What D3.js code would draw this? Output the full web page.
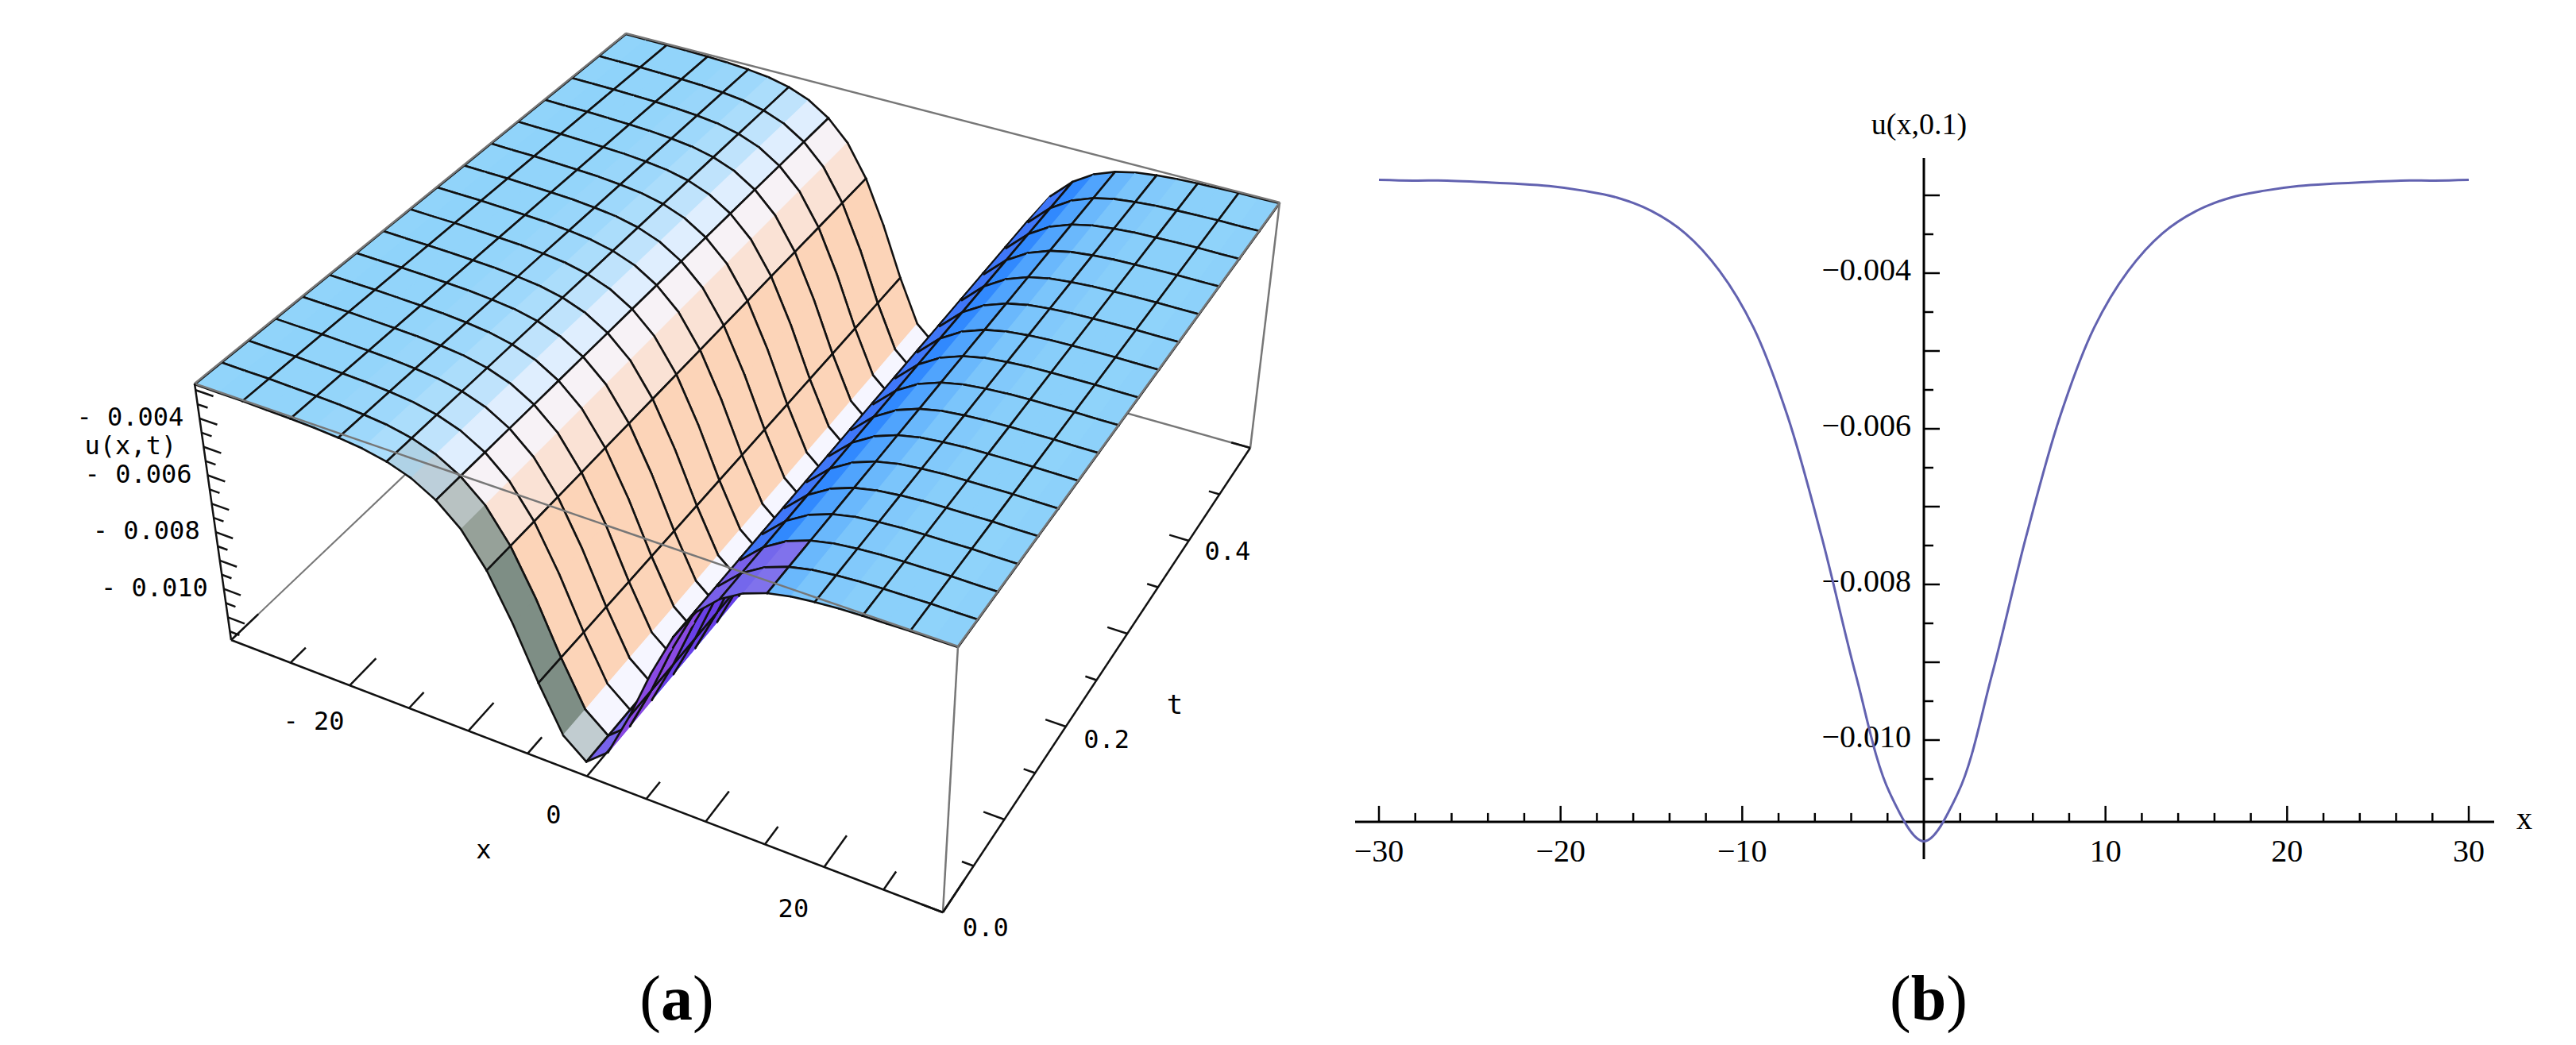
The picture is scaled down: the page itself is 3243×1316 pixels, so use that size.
<!DOCTYPE html>
<html><head><meta charset="utf-8">
<script src="https://cdn.jsdelivr.net/npm/d3@7"></script>
<style>body{margin:0;background:#fff}svg{display:block}</style>
</head><body>
<svg id="c" width="3243" height="1316"></svg>
<script>
// ---------- data ----------
const xSamples = [-30,-28.125,-26.25,-24.375,-22.5,-20.625,-18.75,-16.875,-15,-13.125,-11.25,-9.375,-7.5,-5.625,-3.75,-1.875,0,1.875,3.75,5.625,7.5,9.375,11.25,13.125,15,16.875,18.75,20.625,22.5,24.375,26.25,28.125,30];
const uProfile = [-0.00280,-0.00281,-0.00281,-0.00283,-0.00285,-0.00288,-0.00294,-0.00303,-0.00320,-0.00349,-0.00397,-0.00470,-0.00584,-0.00739,-0.00916,-0.01068,-0.01130,-0.01068,-0.00916,-0.00739,-0.00584,-0.00470,-0.00397,-0.00349,-0.00320,-0.00303,-0.00294,-0.00288,-0.00285,-0.00283,-0.00281,-0.00281,-0.00280];
const tMesh = [0,0.03125,0.0625,0.09375,0.125,0.15625,0.1875,0.21875,0.25,0.28125,0.3125,0.34375,0.375,0.40625,0.4375,0.46875,0.5];
const aXTicks = [-30,-25,-20,-15,-10,-5,0,5,10,15,20,25,30];
const aXLabels = [-20,0,20];
const aTTicks = [0,0.05,0.1,0.15,0.2,0.25,0.3,0.35,0.4,0.45,0.5];
const aTLabels = [0,0.2,0.4];
const aUTicks = [-0.003,-0.0035,-0.004,-0.0045,-0.005,-0.0055,-0.006,-0.0065,-0.007,-0.0075,-0.008,-0.0085,-0.009,-0.0095,-0.010,-0.0105,-0.011,-0.0115];
const aULabels = [-0.004,-0.006,-0.008,-0.010];
const bXTicks = d3.range(-30,31,2);
const bXLabels = [-30,-20,-10,10,20,30];
const bYTicks = [-0.003,-0.0035,-0.004,-0.0045,-0.005,-0.0055,-0.006,-0.0065,-0.007,-0.0075,-0.008,-0.0085,-0.009,-0.0095,-0.010,-0.0105];
const bYLabels = [-0.004,-0.006,-0.008,-0.010];

const svg = d3.select("#c");
const minus = v => (v<0?"\u2212":"") + Math.abs(v);

// ---------- panel (a) ----------
const sx = d3.scaleLinear().domain([-30,30]).range([0,1]);
const st = d3.scaleLinear().domain([0,0.5]).range([0,1]);
const su = d3.scaleLinear().domain([-0.0118,-0.00277]).range([0,1]);
const TOP = {D:[245,483],C:[1206,814],B:[1611,255],A:[788,42]};
const BOT = {D:[291,806],C:[1187,1149],B:[1574,564],A:[780,341]};
function face(F,a,b){
  return [0,1].map(k=>F.D[k]*(1-a)*(1-b)+F.C[k]*a*(1-b)+F.B[k]*a*b+F.A[k]*(1-a)*b);
}
function P(x,t,u){
  const a=sx(x), b=st(t), c=su(u);
  const p=face(TOP,a,b), q=face(BOT,a,b);
  return [q[0]+(p[0]-q[0])*c, q[1]+(p[1]-q[1])*c];
}
const gA = svg.append("g");
const edge = (p,q,col,w)=>gA.append("line").attr("x1",p[0]).attr("y1",p[1]).attr("x2",q[0]).attr("y2",q[1]).attr("stroke",col).attr("stroke-width",w);
const umin=-0.0118, umax=-0.00277;
// hidden edges
edge(P(-30,0.5,umax),P(-30,0.5,umin),"#777",2);
edge(P(-30,0.5,umin),P(-30,0,umin),"#777",2);
edge(P(-30,0.5,umin),P(30,0.5,umin),"#777",2.5);

// slopes
const slopes = xSamples.slice(0,-1).map((x,i)=>(uProfile[i+1]-uProfile[i])/(xSamples[i+1]-x));
const smax = d3.max(slopes,Math.abs);
const flat="#8fd3fa";
const cNeg1=d3.interpolateRgb(flat,"#f6f6ff"), cNeg2=d3.interpolateRgb("#f6f6ff","#fcd4b8");
const cPos1=d3.interpolateRgb(flat,"#2f8cff"), cPos2=d3.interpolateRgb("#2f8cff","#6a40e8");
function colorFor(s,k){
  const r=s/smax;
  let c;
  if(r<=0){const m=-r; c = m<0.35?cNeg1(m/0.35):cNeg2(Math.min(1,(m-0.35)/0.5));
    if(k===0 && m>0.15) c=d3.interpolateRgb(c,"#5f7d78")(Math.min(0.8,m));}
  else { c = r<0.25?cPos1(r/0.25):cPos2(Math.min(1,(r-0.25)/0.6));
    if(k<=1 && r>0.1) c=d3.interpolateRgb(c,"#a050e0")(0.6);}
  return c;
}
const quads=[];
for(let k=tMesh.length-2;k>=0;k--) for(let i=0;i<xSamples.length-1;i++) quads.push([i,k]);
const line = d3.line();
const gS = gA.append("g");
quads.forEach(([i,k])=>{
  const x0=xSamples[i],x1=xSamples[i+1],t0=tMesh[k],t1=tMesh[k+1],u0=uProfile[i],u1=uProfile[i+1];
  const pts=[P(x0,t0,u0),P(x1,t0,u1),P(x1,t1,u1),P(x0,t1,u0)];
  const col=colorFor(slopes[i],k);
  const g=gS.append("g");
  g.append("path").attr("d",line(pts)+"Z").attr("fill",col).attr("stroke",col).attr("stroke-width",1.2);
  const segs=[[pts[0],pts[1]],[pts[3],pts[2]]];
  if(i%2===0) segs.push([pts[0],pts[3]]);
  if((i+1)%2===0) segs.push([pts[1],pts[2]]);
  segs.forEach(([p,q])=>g.append("line").attr("x1",p[0]).attr("y1",p[1]).attr("x2",q[0]).attr("y2",q[1]).attr("stroke","#111").attr("stroke-width",2.6).attr("stroke-linecap","round"));
});
// visible box edges
edge(P(-30,0.5,umax),P(30,0.5,umax),"#777",2.5);
edge(P(30,0.5,umax),P(30,0,umax),"#777",2.5);
edge(P(30,0,umax),P(-30,0,umax),"#777",2.5);
edge(P(-30,0,umax),P(-30,0.5,umax),"#777",2.5);
edge(P(30,0.5,umax),P(30,0.5,umin),"#777",2.5);
edge(P(30,0,umax),P(30,0,umin),"#777",2.5);
edge(P(-30,0,umax),P(-30,0,umin),"#111",2.5);
edge(P(-30,0,umin),P(30,0,umin),"#111",2.5);
edge(P(30,0,umin),P(30,0.5,umin),"#111",2.5);
const lab = (p,txt,anchor,size,fam)=>gA.append("text").attr("x",p[0]).attr("y",p[1]).attr("text-anchor",anchor||"middle").attr("dominant-baseline","middle").attr("font-family",fam||"DejaVu Sans Mono").attr("font-size",size||32).attr("fill","#000").text(txt);
aXTicks.forEach(x=>{const L=(x%10===0)?0.035:0.02; edge(P(x,0,umin),P(x,L,umin),"#111",2.5);});
aXLabels.forEach(x=>{const p=P(x,-0.048,umin); lab(p, x<0?"- "+Math.abs(x):String(x));});
lab([P(-2.5,-0.105,umin)[0],P(-2.5,-0.105,umin)[1]],"x","middle",32);
aTTicks.forEach(t=>{const L=(Math.round(t*100)%10===0)?1.8:1.0; edge(P(30,t,umin),P(30-L,t,umin),"#111",2.5);});
aTLabels.forEach(t=>{const p=P(33.6,t,umin); lab(p,t.toFixed(1));});
lab(P(37,0.25,umin),"t","middle",34);
aUTicks.forEach(u=>{const L=(Math.round(u*10000)%10===0)?1.4:0.8; edge(P(-30,0,u),P(-30+L,0,u),"#111",2.5);});
aULabels.forEach(u=>{const p=P(-30,0,u); lab([p[0]-20,p[1]],"- "+Math.abs(u).toFixed(3),"end",32);});
{const p=P(-30,0,-0.0050); lab([p[0]-92,p[1]],"u(x,t)","middle",32);}

// ---------- panel (b) ----------
const bx = d3.scaleLinear().domain([-30,30]).range([1736,3108]);
const by = d3.scaleLinear().domain([-0.004,-0.010]).range([344,932]);
const gB = svg.append("g").attr("font-family","Liberation Serif").attr("font-size",40);
const axY = by(-0.01105), axX = bx(0);
gB.append("line").attr("x1",1706).attr("x2",3140).attr("y1",axY).attr("y2",axY).attr("stroke","#000").attr("stroke-width",3);
gB.append("line").attr("x1",axX).attr("x2",axX).attr("y1",199).attr("y2",1082).attr("stroke","#000").attr("stroke-width",3);
bXTicks.forEach(x=>{ if(x===0) return; const L=(x%10===0)?20:11;
  gB.append("line").attr("x1",bx(x)).attr("x2",bx(x)).attr("y1",axY).attr("y2",axY-L).attr("stroke","#000").attr("stroke-width",2.5);});
bXLabels.forEach(x=>gB.append("text").attr("x",bx(x)).attr("y",axY+50).attr("text-anchor","middle").text(minus(x)));
bYTicks.forEach(u=>{const L=(Math.round(u*10000)%10===0)?20:12;
  gB.append("line").attr("x1",axX).attr("x2",axX+L).attr("y1",by(u)).attr("y2",by(u)).attr("stroke","#000").attr("stroke-width",2.5);});
bYLabels.forEach(u=>gB.append("text").attr("x",axX-16).attr("y",by(u)).attr("dominant-baseline","middle").attr("text-anchor","end").text("\u2212"+Math.abs(u).toFixed(3)));
gB.append("text").attr("x",3178).attr("y",axY).attr("dominant-baseline","middle").attr("text-anchor","middle").text("x");
gB.append("text").attr("x",2416).attr("y",160).attr("text-anchor","middle").attr("dominant-baseline","middle").attr("font-size",38).text("u(x,0.1)");
gB.append("path").datum(xSamples.map((x,i)=>[x,uProfile[i]]))
  .attr("d",d3.line().x(d=>bx(d[0])).y(d=>by(d[1])).curve(d3.curveCatmullRom))
  .attr("fill","none").attr("stroke","#6262b0").attr("stroke-width",3);

// captions
[["a",852],["b",2428]].forEach(([c,x])=>{
  const t=svg.append("text").attr("x",x).attr("y",1284).attr("text-anchor","middle").attr("font-family","Liberation Serif").attr("font-size",80);
  t.append("tspan").text("(");
  t.append("tspan").attr("font-weight","bold").text(c);
  t.append("tspan").text(")");
});
</script>
</body></html>
